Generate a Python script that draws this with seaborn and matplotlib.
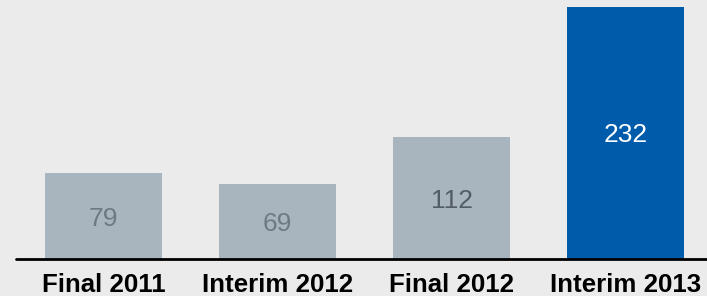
import matplotlib
matplotlib.use("Agg")
import matplotlib.pyplot as plt
import seaborn as sns

# data
categories = ["Final 2011", "Interim 2012", "Final 2012", "Interim 2013"]
values = [79, 69, 112, 232]
bar_colors = ["#a9b5be", "#a9b5be", "#a9b5be", "#005cab"]
label_colors = ["#6d7a84", "#6d7a84", "#525d67", "#ffffff"]

sns.set_style("white")
plt.rcParams["font.family"] = ["Liberation Sans", "DejaVu Sans"]

fig = plt.figure(figsize=(7.07, 2.96), dpi=100)
fig.patch.set_facecolor("#ebebeb")
ax = fig.add_axes([16 / 707, 37 / 296, 1 - 16 / 707, 1 - 37 / 296])
ax.set_facecolor("#ebebeb")

sns.barplot(x=categories, y=values, hue=categories, palette=bar_colors,
            width=0.672, legend=False, saturation=1, linewidth=0, ax=ax)

# value labels in the middle of each bar
for i, v in enumerate(values):
    ax.text(i, v / 2, str(v), ha="center", va="center_baseline", fontsize=19,
            color=label_colors[i])

ax.set_xlim(-0.503, 3.468)
ax.set_ylim(0, 238.4)
ax.axhline(0, color="black", lw=2, clip_on=False)
sns.despine(ax=ax, left=True, bottom=True)
ax.set_yticks([])
ax.set_xlabel("")
ax.set_ylabel("")
ax.tick_params(axis="x", length=0, pad=10, labelsize=18.6)
for t in ax.get_xticklabels():
    t.set_fontweight("bold")
    t.set_color("black")

plt.savefig("out.png", dpi=100, facecolor=fig.get_facecolor())
